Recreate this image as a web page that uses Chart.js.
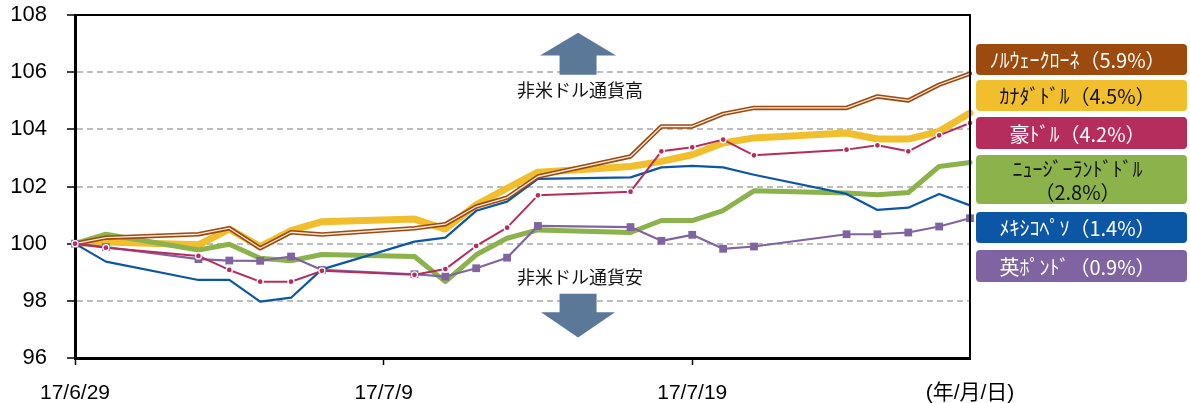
<!DOCTYPE html>
<html>
<head>
<meta charset="utf-8">
<script src="https://cdn.jsdelivr.net/npm/chart.js@4/dist/chart.umd.min.js"></script>
<style>
  html, body { margin: 0; padding: 0; background: #fff; }
  #wrap { width: 1190px; height: 403px; position: relative; }
</style>
</head>
<body>
<div id="wrap"><canvas id="fxChart"></canvas></div>
<script>
// trading days (weekends skipped, x axis is calendar days)
const dates = ['2017-06-29', '2017-06-30', '2017-07-03', '2017-07-04', '2017-07-05', '2017-07-06', '2017-07-07',
  '2017-07-10', '2017-07-11', '2017-07-12', '2017-07-13', '2017-07-14',
  '2017-07-17', '2017-07-18', '2017-07-19', '2017-07-20', '2017-07-21',
  '2017-07-24', '2017-07-25', '2017-07-26', '2017-07-27', '2017-07-28'];

const nok = [100, 100.21, 100.33, 100.54, 99.84, 100.40, 100.32, 100.54, 100.68, 101.30, 101.61, 102.35,
  103.05, 104.10, 104.10, 104.54, 104.75, 104.75, 105.15, 105.01, 105.56, 105.95];
const cad = [100, 100.06, 99.96, 100.51, 99.90, 100.46, 100.77, 100.86, 100.51, 101.36, 101.94, 102.50,
  102.70, 102.88, 103.11, 103.52, 103.70, 103.87, 103.66, 103.66, 103.93, 104.57];
const aud = [100, 99.86, 99.57, 99.08, 98.67, 98.67, 99.05, 98.91, 99.11, 99.92, 100.56, 101.69,
  101.82, 103.23, 103.37, 103.64, 103.09, 103.29, 103.44, 103.23, 103.79, 104.22];
const nzd = [100, 100.33, 99.78, 99.98, 99.49, 99.40, 99.62, 99.55, 98.67, 99.61, 100.19, 100.48,
  100.39, 100.81, 100.81, 101.16, 101.85, 101.77, 101.71, 101.79, 102.70, 102.84];
const mxn = [100, 99.37, 98.73, 98.73, 97.97, 98.11, 99.10, 100.07, 100.21, 101.15, 101.47, 102.27,
  102.32, 102.67, 102.72, 102.67, 102.41, 101.74, 101.18, 101.26, 101.74, 101.34];
const gbp = [100, 99.88, 99.46, 99.41, 99.40, 99.55, 99.08, 98.93, 98.85, 99.14, 99.51, 100.62,
  100.58, 100.10, 100.31, 99.82, 99.90, 100.33, 100.33, 100.39, 100.60, 100.89];

const legendNames = [['ﾉﾙｳｪｰｸﾛｰﾈ（5.9%）'], ['ｶﾅﾀﾞﾄﾞﾙ（4.5%）'], ['豪ﾄﾞﾙ（4.2%）'],
  ['ﾆｭｰｼﾞｰﾗﾝﾄﾞﾄﾞﾙ', '（2.8%）'], ['ﾒｷｼｺﾍﾟｿ（1.4%）'], ['英ﾎﾟﾝﾄﾞ（0.9%）']];

const xTickDays = [0, 10, 20, 29];
const xTickLabels = ['17/6/29', '17/7/9', '17/7/19', '(年/月/日)'];

const colors = {
    nok: '#9C4A0E',
    cad: '#F1BF2E',
    aud: '#B42D5C',
    nzd: '#8CB24C',
    mxn: '#0C57A5',
    gbp: '#8064A2'
};

const day0 = Date.parse(dates[0]);
const toPoints = values => dates.map((d, i) => ({ x: (Date.parse(d) - day0) / 86400000, y: values[i] }));

function line(values, color, width, extra) {
    return Object.assign({
        data: toPoints(values),
        borderColor: color,
        backgroundColor: color,
        borderWidth: width,
        pointRadius: 0,
        tension: 0,
        fill: false,
        clip: false,
        borderJoinStyle: 'round',
        borderCapStyle: 'round'
    }, extra || {});
}

// first in list = drawn on top
const datasets = [
    line(aud, colors.aud, 2, { pointRadius: 3, pointBorderColor: '#fff', pointBorderWidth: 1.3, pointBackgroundColor: colors.aud }),
    line(gbp, colors.gbp, 2.2, { pointStyle: 'rect', pointRadius: 5.5, pointBorderWidth: 0, pointBackgroundColor: colors.gbp }),
    line(nok, '#FBE9DC', 1.3),
    line(nok, colors.nok, 4.5),
    line(mxn, colors.mxn, 2.2),
    line(nzd, colors.nzd, 5),
    line(cad, colors.cad, 7)
];

// annotations: arrows and texts (placed in data units)
const arrowDay = 16.3;
const decorPlugin = {
    id: 'decor',
    afterDraw(chart) {
        const { ctx, chartArea: a, scales: { x, y } } = chart;
        const cx = x.getPixelForValue(arrowDay);

        // up / down arrows
        ctx.save();
        ctx.fillStyle = '#5B7898';
        const up = [y.getPixelForValue(107.38), y.getPixelForValue(106.58), y.getPixelForValue(105.91)];
        ctx.beginPath();
        ctx.moveTo(cx, up[0]);
        ctx.lineTo(cx + 38, up[1]);
        ctx.lineTo(cx + 18.5, up[1]);
        ctx.lineTo(cx + 18.5, up[2]);
        ctx.lineTo(cx - 18.5, up[2]);
        ctx.lineTo(cx - 18.5, up[1]);
        ctx.lineTo(cx - 38, up[1]);
        ctx.closePath();
        ctx.fill();
        const dn = [y.getPixelForValue(98.25), y.getPixelForValue(97.6), y.getPixelForValue(96.72)];
        ctx.beginPath();
        ctx.moveTo(cx - 18.5, dn[0]);
        ctx.lineTo(cx + 18.5, dn[0]);
        ctx.lineTo(cx + 18.5, dn[1]);
        ctx.lineTo(cx + 37, dn[1]);
        ctx.lineTo(cx, dn[2]);
        ctx.lineTo(cx - 37, dn[1]);
        ctx.lineTo(cx - 18.5, dn[1]);
        ctx.closePath();
        ctx.fill();

        ctx.fillStyle = '#111';
        ctx.font = '18px "Noto Sans CJK JP"';
        ctx.textAlign = 'center';
        ctx.textBaseline = 'middle';
        ctx.fillText('非米ドル通貨高', cx + 2, y.getPixelForValue(105.38));
        ctx.fillText('非米ドル通貨安', cx + 2, y.getPixelForValue(98.82));

        // frame
        ctx.strokeStyle = '#000';
        ctx.lineWidth = 2;
        ctx.beginPath();
        ctx.moveTo(a.left, a.top);
        ctx.lineTo(a.right, a.top);
        ctx.lineTo(a.right, a.bottom);
        ctx.stroke();

        // legend boxes
        const boxColors = [colors.nok, colors.cad, colors.aud, colors.nzd, colors.mxn, colors.gbp];
        const textColors = ['#fff', '#111', '#fff', '#111', '#fff', '#fff'];
        const tops = [44, 80, 117, 155, 212, 250];
        const heights = [31, 31, 32, 49, 31, 32];
        const bx = a.right + 6, bw = 211;
        ctx.font = '20px "Noto Sans CJK JP"';
        legendNames.forEach((lines, i) => {
            ctx.fillStyle = boxColors[i];
            ctx.beginPath();
            ctx.roundRect(bx, tops[i], bw, heights[i], 4);
            ctx.fill();
            ctx.fillStyle = textColors[i];
            const mid = tops[i] + heights[i] / 2;
            lines.forEach((t, j) => {
                const ty = mid + (j - (lines.length - 1) / 2) * 23;
                ctx.fillText(t, bx + bw / 2 - 4, ty + 1);
            });
        });
        ctx.restore();
    }
};

const ctx = document.getElementById('fxChart').getContext('2d');

new Chart(ctx, {
    type: 'line',
    data: { datasets },
    plugins: [decorPlugin],
    options: {
        responsive: true,
        maintainAspectRatio: false,
        animation: false,
        events: [],
        layout: { padding: { top: 15, right: 220, left: 0, bottom: 0 } },
        plugins: {
            legend: { display: false },
            tooltip: { enabled: false }
        },
        scales: {
            x: {
                type: 'linear',
                min: 0,
                max: 29,
                afterBuildTicks: scale => { scale.ticks = xTickDays.map(v => ({ value: v })); },
                afterFit: scale => { scale.height = 45; },
                grid: {
                    drawOnChartArea: false,
                    tickLength: 7,
                    tickWidth: 1.5,
                    tickBorderDash: [],
                    tickColor: c => c.tick && c.tick.value === 29 ? 'rgba(0,0,0,0)' : '#000'
                },
                border: { color: '#000', width: 3 },
                ticks: {
                    autoSkip: false,
                    maxRotation: 0,
                    padding: 16,
                    color: '#000',
                    font: { family: '"Liberation Sans", "Noto Sans CJK JP"', size: 21 },
                    callback: v => xTickLabels[xTickDays.indexOf(v)]
                }
            },
            y: {
                min: 96,
                max: 108,
                afterFit: scale => {
                    scale.width = 75;
                    scale.paddingTop = 12;
                    scale.paddingBottom = 12;
                },
                grid: {
                    color: c => (c.tick && (c.tick.value === 96 || c.tick.value === 108)) ? 'rgba(0,0,0,0)' : '#BDBDBD',
                    lineWidth: 2,
                    tickLength: 8,
                    tickWidth: 1.5,
                    tickColor: '#000',
                    tickBorderDash: []
                },
                border: { color: '#000', width: 3, dash: [6, 4] },
                ticks: {
                    stepSize: 2,
                    padding: 20,
                    color: '#000',
                    font: { family: '"Liberation Sans"', size: 22 }
                }
            }
        }
    }
});
</script>
</body>
</html>
